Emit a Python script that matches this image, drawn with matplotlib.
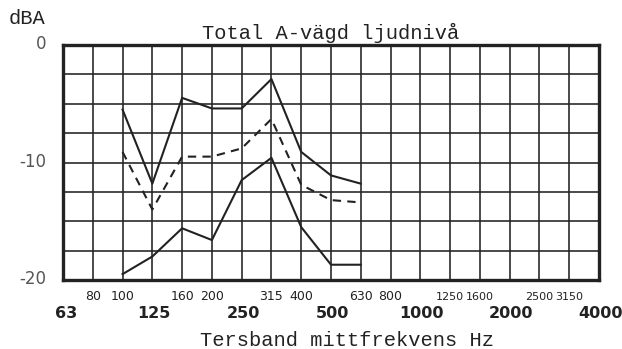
import matplotlib
matplotlib.use("Agg")
import matplotlib.pyplot as plt

bands = ["63", "80", "100", "125", "160", "200", "250", "315", "400", "500",
         "630", "800", "1000", "1250", "1600", "2000", "2500", "3150", "4000"]
small_labels = ["80", "100", "160", "200", "315", "400", "630", "800",
                "1250", "1600", "2500", "3150"]
big_labels = ["63", "125", "250", "500", "1000", "2000", "4000"]

data_bands = ["100", "125", "160", "200", "250", "315", "400", "500", "630"]
upper = [-5.5, -11.8, -4.5, -5.4, -5.4, -2.9, -9.1, -11.1, -11.8]
middle = [-9.1, -14.0, -9.5, -9.5, -8.8, -6.3, -11.9, -13.2, -13.4]
lower = [-19.5, -18.0, -15.6, -16.6, -11.5, -9.6, -15.5, -18.7, -18.7]

y_ticks = [0, -10, -20]
y_ticklabels = ["0", "-10", "-20"]

title = "Total A-vägd ljudnivå"
xlabel = "Tersband mittfrekvens Hz"
ylabel = "dBA"

W, H = 622, 349
fig = plt.figure(figsize=(W / 100, H / 100), dpi=100)
fig.patch.set_facecolor("white")
left, right, top, bottom = 63, 599, 45, 280
ax = fig.add_axes([left / W, 1 - bottom / H, (right - left) / W, (bottom - top) / H])

ink = "#222222"
xpos = {b: i for i, b in enumerate(bands)}
xs = [xpos[b] for b in data_bands]

# grid
for i in range(len(bands)):
    ax.axvline(i, color=ink, lw=1.15, zorder=1)
for k in range(9):
    ax.axhline(-2.5 * k, color=ink, lw=1.15, zorder=1)

ax.plot(xs, upper, color=ink, lw=1.5, zorder=3)
ax.plot(xs, middle, color=ink, lw=1.5, ls=(0, (4.0, 3.0)), zorder=3)
ax.plot(xs, lower, color=ink, lw=1.5, zorder=3)

ax.set_xlim(0, len(bands) - 1)
ax.set_ylim(-20, 0)
ax.set_xticks([])
ax.set_yticks([])
for s in ax.spines.values():
    s.set_linewidth(2.4)
    s.set_color(ink)

# y labels
for v, lab in zip(y_ticks, y_ticklabels):
    fig.text(46 / W, 1 - (top + (-v) / 20 * (bottom - top) - 1) / H, lab,
             ha="right", va="center", fontsize=12, color="#555555",
             family="DejaVu Sans")

fig.text(27 / W, 1 - 19 / H, ylabel, ha="center", va="center",
         fontsize=14.7, family="Liberation Mono", color=ink)

# x labels
trans = ax.get_xaxis_transform()
ah = bottom - top
for lab in small_labels:
    fs = 8.0 if len(lab) == 4 else 9.0
    ax.text(xpos[lab], -16.5 / ah, lab, transform=trans, ha="center",
            va="center", fontsize=fs, color=ink, family="DejaVu Sans")
for lab in big_labels:
    ax.text(xpos[lab] + (0.12 if lab == "63" else 0.05), -34 / ah, lab,
            transform=trans, ha="center", va="center", fontsize=11.5,
            color=ink, family="DejaVu Sans", fontweight="semibold")

fig.text(331 / W, 1 - 33 / H, title, ha="center", va="center", fontsize=14.7,
         family="Liberation Mono", color=ink)
fig.text(347 / W, 1 - 341 / H, xlabel, ha="center", va="center", fontsize=14.7,
         family="Liberation Mono", color=ink)

fig.savefig("out.png", dpi=100, facecolor="white")
